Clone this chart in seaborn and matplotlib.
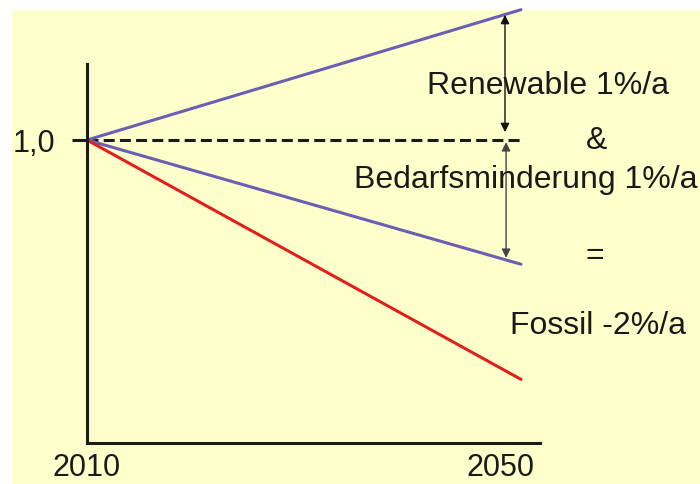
import matplotlib
matplotlib.use("Agg")
import matplotlib.pyplot as plt
import matplotlib.transforms as mtransforms
from matplotlib.patches import Rectangle
import seaborn as sns
import pandas as pd

# data (index 1,0 = 2010)
years = [2010, 2050]
renewable = [1.0, 1.43]
bedarf = [1.0, 0.59]
fossil = [1.0, 0.21]
tick_labels = ["2010", "2050"]
y_tick_label = "1,0"

sns.set_style("white")
plt.rcParams['font.family'] = ['Liberation Sans', 'DejaVu Sans']

W, H = 700, 484
fig = plt.figure(figsize=(W / 100, H / 100), dpi=100)
fig.patch.set_facecolor("white")

# yellow panel behind everything
fig.patches.append(Rectangle((12 / W, 0), 1 - 12 / W, 1 - 10 / H,
                             transform=fig.transFigure, color="#FFFFCC", zorder=-10))

def fx(px):
    return px / W

def fy(py):
    return 1 - py / H

ax = fig.add_axes([fx(87), fy(443), 1 - fx(87), 443 / H])
ax.set_facecolor("none")

purple = "#6A5FB0"
red = "#E0201E"

df = pd.DataFrame({"year": years, "Renewable": renewable,
                   "Bedarf": bedarf, "Fossil": fossil})
sns.lineplot(data=df, x="year", y="Renewable", color=purple, lw=2.2, ax=ax)
sns.lineplot(data=df, x="year", y="Bedarf", color=purple, lw=2.2, ax=ax)
sns.lineplot(data=df, x="year", y="Fossil", color=red, lw=2.2, ax=ax)

# dashed reference at 1,0
ax.plot([years[0], years[1] + 0.1], [1.0, 1.0], color="#1a1a1a", lw=2.2,
        dashes=(3.6, 1.7), zorder=1)

ax.set_xlim(2010, 2010 + 613 / 434 * 40)
ax.set_ylim(0, 443 / 303)
ax.set_xlabel("")
ax.set_ylabel("")

for s in ["top", "right"]:
    ax.spines[s].set_visible(False)
for s in ["left", "bottom"]:
    ax.spines[s].set_linewidth(2.2)
    ax.spines[s].set_color("#1a1a1a")
ax.spines["left"].set_bounds(0, 1.25)
ax.spines["bottom"].set_bounds(2010, 2051.75)

ax.set_yticks([1.0])
ax.set_yticklabels([y_tick_label])
ax.tick_params(axis="y", left=True, length=10.5, width=2.2, color="#1a1a1a",
               pad=12.5, labelsize=22, labelcolor="#1a1a1a")
ax.set_xticks(years)
ax.set_xticklabels(tick_labels)
ax.tick_params(axis="x", length=0, pad=7, labelsize=22, labelcolor="#1a1a1a")
lbl = ax.get_xticklabels()[1]
lbl.set_transform(lbl.get_transform() +
                  mtransforms.ScaledTranslation(-0.21, 0, fig.dpi_scale_trans))

# double arrows
arrow_x = 2010 + (505 - 87) / 434 * 40
ax.annotate("", xy=(arrow_x, 1.413), xytext=(arrow_x, 1.026),
            arrowprops=dict(arrowstyle="<|-|>", color="#111111", lw=1.0,
                            mutation_scale=13, shrinkA=0, shrinkB=0))
ax.annotate("", xy=(arrow_x + 0.1, 0.993), xytext=(arrow_x + 0.1, 0.611),
            arrowprops=dict(arrowstyle="<|-|>", color="#444444", lw=1.0,
                            mutation_scale=13, shrinkA=0, shrinkB=0))

# annotations
txt = dict(fontsize=23, color="#1a1a1a", ha="center", va="center")
fig.text(fx(548), fy(86), "Renewable 1%/a", **txt)
fig.text(fx(597), fy(141), "&", **txt)
fig.text(fx(526), fy(180), "Bedarfsminderung 1%/a", **txt)
fig.text(fx(595), fy(256), "=", **txt)
fig.text(fx(598), fy(326), "Fossil -2%/a", **txt)

fig.savefig("out.png", dpi=100)
